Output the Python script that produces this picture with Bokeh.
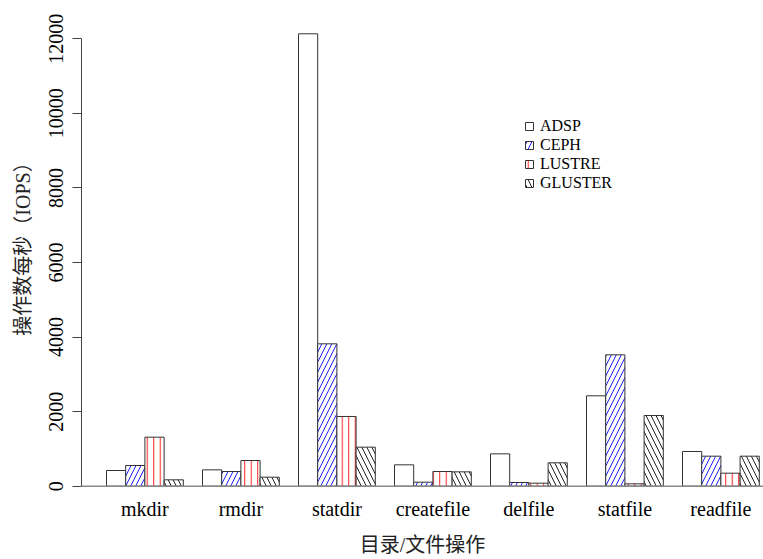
from bokeh.plotting import figure
from bokeh.models import Range1d, LinearAxis, FixedTicker, Span, Legend, LegendItem
from bokeh.embed import file_html
from bokeh.resources import INLINE

# ---- data ----
categories = ["mkdir", "rmdir", "statdir", "createfile", "delfile", "statfile", "readfile"]
series_names = ["ADSP", "CEPH", "LUSTRE", "GLUSTER"]
adsp = [421, 439, 12134, 573, 868, 2424, 931]
ceph = [555, 394, 3819, 108, 99, 3524, 805]
lustre = [1315, 689, 1870, 394, 81, 64, 349]
gluster = [171, 242, 1047, 385, 627, 1896, 805]
y_ticks = [0, 2000, 4000, 6000, 8000, 10000, 12000]
x_title = "目录/文件操作"
y_title = "操作数每秒（IOPS）"

series_values = [adsp, ceph, lustre, gluster]
hatches = ["", "/", "|", "\\"]
hatch_colors = ["black", "#2020ff", "#ff2020", "#222222"]
hatch_scales = [10, 10, 6.5, 10]

SERIF = "'Liberation Serif', 'Noto Sans CJK SC'"

# layout: each group = 4 bars of width 1, 1 unit of space before each group
n_series = len(series_names)
group_step = n_series + 1

W, H = 763, 559
px_per_unit = 19.2
unit0_page = 86.8
frame_left, frame_right = 81, 763
x0 = (frame_left - unit0_page) / px_per_unit
x1 = (frame_right - unit0_page) / px_per_unit

py_per_val = 0.037283
zero_page = 485.7
frame_top, frame_bottom = 0, 487
y0 = -(frame_bottom - zero_page) / py_per_val
y1 = (zero_page - frame_top) / py_per_val

p = figure(width=W, height=H, output_backend="svg", toolbar_location=None,
           x_range=Range1d(x0, x1), y_range=Range1d(y0, y1),
           x_axis_type=None, y_axis_type=None,
           min_border_left=frame_left, min_border_right=W - frame_right,
           min_border_top=frame_top, min_border_bottom=H - frame_bottom,
           outline_line_color=None, background_fill_color="white", border_fill_color="white")

base = Span(location=0, dimension="width", line_color="#8a8a8a", line_width=1.5)
p.add_layout(base)

renderers = []
for j, (name, vals) in enumerate(zip(series_names, series_values)):
    xs = [i * group_step + 1 + j + 0.5 for i in range(len(categories))]
    kw = dict(fill_color="white", line_color="#333333", line_width=1)
    if hatches[j]:
        kw.update(hatch_pattern=hatches[j], hatch_color=hatch_colors[j],
                  hatch_scale=hatch_scales[j], hatch_weight=1)
    r = p.vbar(x=xs, width=1, top=vals, bottom=0, **kw)
    renderers.append(r)

yaxis = LinearAxis(ticker=FixedTicker(ticks=y_ticks), bounds=(0, 12000),
                   axis_line_color="#444444", axis_line_width=1,
                   major_tick_line_color="#444444", major_tick_out=9, major_tick_in=0,
                   minor_tick_line_color=None,
                   major_label_orientation="vertical", major_label_standoff=9,
                   major_label_text_font=SERIF, major_label_text_font_size="20px",
                   major_label_text_color="black",
                   axis_label=y_title, axis_label_text_font=SERIF,
                   axis_label_text_font_size="20px", axis_label_text_font_style="normal",
                   axis_label_text_color="#222222", axis_label_standoff=13)
p.add_layout(yaxis, "left")

centers = [i * group_step + 1 + n_series // 2 for i in range(len(categories))]
xaxis = LinearAxis(ticker=FixedTicker(ticks=centers),
                   major_label_overrides={c: lab for c, lab in zip(centers, categories)},
                   axis_line_color=None, major_tick_line_color=None, minor_tick_line_color=None,
                   major_label_standoff=4,
                   major_label_text_font=SERIF, major_label_text_font_size="20px",
                   major_label_text_color="black",
                   axis_label=x_title, axis_label_text_font=SERIF,
                   axis_label_text_font_size="20px", axis_label_text_font_style="normal",
                   axis_label_text_color="#222222", axis_label_standoff=11)
p.add_layout(xaxis, "below")

legend = Legend(items=[LegendItem(label=n, renderers=[r]) for n, r in zip(series_names, renderers)],
                location=(443, 295), border_line_color=None, background_fill_alpha=0,
                padding=0, spacing=0, margin=0, glyph_width=10, glyph_height=10,
                label_standoff=6, label_text_font=SERIF, label_text_font_size="16px",
                label_text_color="black", label_height=19)
p.add_layout(legend)

open("out.html", "w").write(file_html(p, INLINE))
